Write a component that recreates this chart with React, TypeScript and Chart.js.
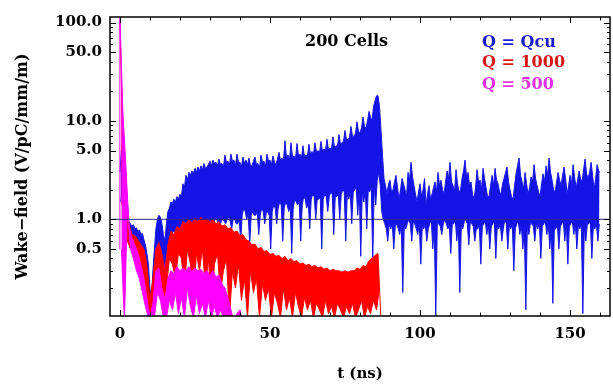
import React, { useEffect, useRef } from 'react';
import { Chart, registerables } from 'chart.js';
Chart.register(...registerables);

// ---- data (t in ns, wake-field in V/pC/mm/m) ----
// Q = Qcu: local maxima every 0.5 ns from t = 0, local minima every 0.5 ns from t = 0.25
const blueStep = 0.5;
const blueMaxStart = 0;
const blueMinStart = 0.25;
const blueMax = [
  3, 5, 5, 3, 2.5, 1.5, 0.95, 0.9, 0.85, 0.88, 0.8, 0.82, 0.75, 0.78, 0.7, 0.72, 0.62, 0.55, 0.45, 0.35,
  0.2, 0.15, 0.3, 0.5, 0.8, 1.0, 1.1, 1.05, 0.9, 0.7, 0.6, 0.9, 1.2, 1.3, 1.5, 1.45, 1.6, 1.5, 1.7, 1.6,
  1.8, 1.7, 2.3, 2.1, 2.8, 2.5, 3.0, 2.8, 3.1, 2.9, 3.3, 3.0, 3.4, 3.1, 3.5, 3.2, 3.7, 3.3, 3.4, 3.6,
  3.9, 3.5, 4.0, 3.7, 3.8, 3.5, 4.1, 3.6, 3.7, 3.4, 4.5, 3.8, 3.9, 3.6, 4.6, 3.9, 4.0, 3.5, 4.6, 3.8,
  3.8, 3.4, 4.3, 3.7, 4.0, 3.6, 4.2, 3.5, 3.5, 3.9, 4.3, 3.6, 3.7, 3.3, 4.5, 3.8, 3.9, 3.4, 4.6, 3.9,
  4.0, 3.6, 4.4, 3.8, 3.6, 4.1, 4.8, 4.0, 4.2, 3.9, 6.3, 4.2, 4.5, 4.0, 6.0, 4.3, 4.4, 4.1, 5.9, 4.4,
  4.6, 4.2, 5.6, 4.3, 4.5, 4.4, 5.8, 4.5, 4.9, 4.6, 6.0, 4.8, 5.0, 4.7, 6.2, 4.9, 5.2, 5.0, 6.5, 5.1,
  5.3, 5.2, 6.9, 5.4, 5.6, 5.5, 7.3, 5.8, 6.0, 6.2, 8.0, 6.4, 6.5, 6.8, 8.8, 7.0, 7.0, 7.5, 9.8, 7.8,
  7.6, 8.5, 11, 8.8, 8.5, 10, 12.5, 11, 10, 14, 16, 18, 18, 14, 8, 4.5, 2.6, 2.2, 1.8, 2.3,
  2.5, 1.9, 2.0, 2.4, 2.8, 2.1, 1.6, 2.0, 2.6, 2.3, 2.0, 1.7, 3.0, 2.5, 3.8, 2.7, 2.2, 1.8, 1.5, 1.9,
  2.3, 1.7, 2.0, 2.6, 1.4, 1.8, 2.2, 1.6, 1.8, 2.1, 2.4, 1.9, 3.0, 2.2, 2.5, 2.0, 1.8, 2.4, 3.1, 2.6,
  3.8, 2.4, 2.2, 1.9, 3.2, 2.3, 1.9, 2.0, 2.6, 3.1, 4.0, 2.7, 3.0, 2.2, 2.4, 1.8, 1.6, 2.1, 3.2, 2.4,
  2.5, 2.0, 3.3, 2.6, 2.1, 1.7, 1.7, 2.2, 2.8, 2.2, 3.3, 2.5, 2.3, 1.9, 1.8, 2.3, 2.6, 3.0, 3.4, 2.4,
  2.0, 1.7, 1.6, 2.2, 2.9, 3.5, 4.2, 2.8, 2.4, 2.0, 3.0, 2.3, 1.8, 2.1, 2.7, 2.4, 3.6, 2.6, 2.2, 1.9,
  1.7, 2.3, 2.9, 2.4, 3.5, 2.8, 4.2, 3.0, 2.5, 2.0, 1.9, 2.4, 3.0, 2.5, 2.2, 2.8, 3.4, 2.6, 1.8, 2.2,
  2.8, 2.3, 3.6, 2.7, 2.1, 2.5, 3.1, 2.6, 2.4, 3.2, 4.1, 2.9, 2.6, 3.0, 3.8, 2.8, 2.0, 2.6, 3.6, 3.1,
  3.0,
];
const blueMin = [
  1.5, 2, 1.8, 1.5, 1.2, 0.9, 0.7, 0.72, 0.62, 0.65, 0.58, 0.6, 0.52, 0.55, 0.47, 0.5, 0.38, 0.4, 0.25, 0.2,
  0.12, 0.09, 0.15, 0.3, 0.5, 0.6, 0.55, 0.5, 0.35, 0.3, 0.4, 0.5, 0.6, 0.7, 0.7, 0.75, 0.75, 0.8, 0.8, 0.78,
  0.8, 0.82, 0.85, 0.8, 0.9, 0.85, 0.85, 0.9, 0.9, 0.85, 0.9, 0.95, 0.95, 0.9, 0.9, 0.95, 0.9, 1.0, 1.0, 0.95,
  0.9, 0.95, 0.95, 1.0, 1.0, 0.9, 0.85, 0.95, 1.0, 0.95, 0.9, 1.0, 1.05, 0.95, 0.8, 1.0, 1.0, 0.9, 0.9, 1.0,
  0.6, 1.1, 1.3, 1.2, 1.0, 1.15, 0.55, 1.1, 1.2, 1.1, 1.1, 1.2, 0.7, 1.1, 1.3, 1.2, 0.9, 1.15, 1.2, 1.1,
  0.5, 1.2, 1.4, 1.3, 0.9, 1.3, 1.5, 1.4, 0.6, 1.3, 1.5, 1.4, 1.2, 1.4, 0.45, 1.3, 1.6, 1.5, 1.4, 1.5,
  0.6, 1.4, 1.7, 1.6, 1.3, 1.5, 0.8, 1.6, 1.8, 1.7, 1.0, 1.6, 1.6, 1.7, 0.5, 1.6, 1.8, 1.7, 1.2, 1.7,
  1.9, 1.8, 0.7, 1.7, 1.7, 1.8, 1.0, 1.8, 2.0, 1.9, 0.6, 1.8, 1.6, 1.9, 0.9, 1.9, 2.0, 2.1, 1.1, 2.0,
  0.42, 1.9, 1.5, 2.0, 0.8, 2.0, 1.9, 2.2, 0.38, 2.2, 1.4, 2.5, 3.0, 2.2, 1.2, 1.0, 0.9, 0.8, 0.6, 0.9,
  0.8, 0.9, 0.5, 0.85, 0.9, 0.8, 0.7, 0.9, 0.18, 0.85, 0.8, 0.9, 1.0, 0.9, 0.6, 0.95, 0.9, 0.8, 0.7, 0.9,
  0.35, 0.85, 0.8, 0.9, 0.6, 0.8, 0.9, 1.0, 0.5, 0.85, 0.1, 0.9, 0.9, 0.85, 0.7, 0.9, 1.0, 0.9, 0.8, 0.85,
  0.45, 0.9, 0.9, 1.0, 0.6, 0.9, 0.18, 0.85, 0.8, 0.95, 1.0, 0.9, 0.55, 0.95, 0.9, 0.85, 0.6, 0.8, 0.8, 0.9,
  0.35, 0.85, 0.9, 0.95, 0.7, 0.9, 0.5, 0.85, 0.9, 0.95, 0.4, 0.85, 0.8, 0.9, 0.6, 0.8, 1.0, 0.9, 0.5, 0.85,
  0.8, 0.9, 0.3, 0.8, 0.9, 0.95, 0.7, 0.9, 0.5, 0.8, 0.12, 0.85, 0.7, 0.9, 0.9, 0.85, 0.6, 0.9, 0.8, 0.95,
  0.4, 0.85, 0.9, 0.95, 0.7, 0.9, 0.5, 0.85, 0.14, 0.8, 0.8, 0.9, 0.5, 0.85, 0.9, 0.95, 0.6, 0.9, 0.35, 0.85,
  0.9, 0.95, 0.7, 0.9, 0.5, 0.85, 0.8, 0.9, 0.11, 0.85, 0.6, 0.9, 0.9, 0.95, 0.4, 0.85, 0.8, 0.9, 0.6, 0.9,
];

// Q = 1000: maxima every 1 ns from t = 0, minima every 1 ns from t = 0.5
const redStep = 1;
const redMaxStart = 0;
const redMinStart = 0.5;
const redMax = [
  100, 6, 2.0, 0.9, 0.7, 0.68, 0.62, 0.55, 0.5, 0.35,
  0.15, 0.25, 0.5, 0.58, 0.45, 0.3, 0.55, 0.75, 0.7, 0.85,
  0.8, 0.95, 0.9, 1.0, 0.92, 1.02, 0.95, 1.05, 0.97, 1.0,
  0.95, 1.0, 0.9, 0.95, 0.85, 0.88, 0.8, 0.82, 0.74, 0.76,
  0.68, 0.7, 0.62, 0.6, 0.55, 0.56, 0.5, 0.52, 0.47, 0.48,
  0.44, 0.45, 0.42, 0.43, 0.4, 0.42, 0.38, 0.4, 0.37, 0.38,
  0.35, 0.36, 0.34, 0.35, 0.33, 0.34, 0.32, 0.33, 0.31, 0.32,
  0.3, 0.31, 0.3, 0.3, 0.29, 0.3, 0.29, 0.3, 0.3, 0.32,
  0.31, 0.34, 0.33, 0.38, 0.4, 0.43, 0.45, 0.09,
];
const redMin = [
  1.5, 1.2, 0.6, 0.5, 0.45, 0.42, 0.38, 0.3, 0.22, 0.12,
  0.09, 0.12, 0.3, 0.25, 0.15, 0.2, 0.4, 0.35, 0.25, 0.45,
  0.4, 0.2, 0.5, 0.35, 0.15, 0.45, 0.3, 0.5, 0.2, 0.4,
  0.12, 0.35, 0.45, 0.18, 0.3, 0.4, 0.1, 0.3, 0.2, 0.35,
  0.15, 0.25, 0.1, 0.3, 0.18, 0.25, 0.1, 0.22, 0.15, 0.2,
  0.1, 0.18, 0.14, 0.1, 0.2, 0.12, 0.16, 0.1, 0.18, 0.13,
  0.1, 0.16, 0.12, 0.15, 0.1, 0.14, 0.12, 0.1, 0.15, 0.11,
  0.13, 0.1, 0.14, 0.12, 0.1, 0.13, 0.11, 0.14, 0.1, 0.12,
  0.15, 0.1, 0.13, 0.11, 0.15, 0.12, 0.2,
];

// Q = 500: onset point, then maxima every 1 ns from t = 0, minima from t = 0.5
const magentaOnsetT = -0.1;
const magentaOnsetValue = 0.5;
const magentaStep = 1;
const magentaMaxStart = 0;
const magentaMinStart = 0.5;
const magentaMax = [
  120, 12, 3.5, 0.85, 0.65, 0.55, 0.45, 0.35, 0.25, 0.16,
  0.1, 0.14, 0.3, 0.32, 0.2, 0.15, 0.25, 0.3, 0.28, 0.33,
  0.3, 0.32, 0.3, 0.33, 0.29, 0.32, 0.3, 0.31, 0.28, 0.3,
  0.27, 0.3, 0.26, 0.27, 0.22, 0.2, 0.16, 0.12, 0.09, 0.11,
  0.12, 0.09,
];
const magentaMin = [
  0.5, 0.09, 1.3, 0.5, 0.4, 0.3, 0.25, 0.18, 0.13, 0.1,
  0.09, 0.1, 0.18, 0.15, 0.1, 0.1, 0.15, 0.12, 0.18, 0.11,
  0.16, 0.1, 0.2, 0.13, 0.1, 0.17, 0.11, 0.14, 0.1, 0.15,
  0.1, 0.13, 0.1, 0.12, 0.1, 0.1, 0.09, 0.09, 0.09, 0.09,
  0.09,
];

const referenceLevel = 1;
const xTickValues = [0, 50, 100, 150];
const xMinorTickValues = [10, 20, 30, 40, 60, 70, 80, 90, 110, 120, 130, 140, 160];
const yTickValues = [0.5, 1, 5, 10, 50, 100];
const yMinorTickValues = [0.2, 0.3, 0.4, 0.6, 0.7, 0.8, 0.9, 2, 3, 4, 6, 7, 8, 9, 20, 30, 40, 60, 70, 80, 90];

const xMin = -3.3;
const xMax = 163.3;
const yMin = 0.104;
const yMax = 114;

function pointsAt(start: number, step: number, values: number[]) {
  return values.map((v, i) => ({ x: start + i * step, y: v }));
}

const FONT = 'DejaVu Serif';

const framePlugin = {
  id: 'frameTicks',
  afterDatasetsDraw(chart: any) {
    const { ctx, chartArea, scales } = chart;
    const yRef = scales.y.getPixelForValue(referenceLevel);
    ctx.save();
    ctx.strokeStyle = '#2c2c7a';
    ctx.lineWidth = 1;
    ctx.beginPath();
    ctx.moveTo(chartArea.left, yRef);
    ctx.lineTo(chartArea.right, yRef);
    ctx.stroke();
    ctx.restore();
  },
  afterDraw(chart: any) {
    const { ctx, chartArea, scales } = chart;
    const { left, right, top, bottom } = chartArea;
    ctx.save();
    ctx.strokeStyle = '#000';
    ctx.lineWidth = 1.5;
    ctx.strokeRect(left, top, right - left, bottom - top);
    ctx.lineWidth = 1;
    ctx.beginPath();
    const xt = (v: number, len: number) => {
      const px = Math.round(scales.x.getPixelForValue(v)) + 0.5;
      ctx.moveTo(px, bottom);
      ctx.lineTo(px, bottom - len);
      ctx.moveTo(px, top);
      ctx.lineTo(px, top + len);
    };
    const yt = (v: number, len: number) => {
      const py = Math.round(scales.y.getPixelForValue(v)) + 0.5;
      ctx.moveTo(left, py);
      ctx.lineTo(left + len, py);
      ctx.moveTo(right, py);
      ctx.lineTo(right - len, py);
    };
    xTickValues.forEach((v) => xt(v, 6));
    xMinorTickValues.forEach((v) => xt(v, 3.5));
    yTickValues.forEach((v) => yt(v, 6));
    yMinorTickValues.forEach((v) => yt(v, 3));
    ctx.stroke();

    // annotation texts
    ctx.font = `bold 16px "${FONT}"`;
    ctx.textBaseline = 'middle';
    ctx.textAlign = 'left';
    ctx.fillStyle = '#000';
    ctx.fillText('200 Cells', 305, 42);
    ctx.fillStyle = '#1a1ad0';
    ctx.fillText('Q = Qcu', 482, 43);
    ctx.fillStyle = '#d81818';
    ctx.fillText('Q = 1000', 482, 63);
    ctx.fillStyle = '#e030e0';
    ctx.fillText('Q = 500', 482, 85);
    ctx.restore();
  },
};

export default function App() {
  const ref = useRef<HTMLCanvasElement>(null);
  useEffect(() => {
    if (!ref.current) return;
    const blueHi = pointsAt(blueMaxStart, blueStep, blueMax);
    const blueLo = pointsAt(blueMinStart, blueStep, blueMin);
    const redHi = pointsAt(redMaxStart, redStep, redMax);
    const redLo = pointsAt(redMinStart, redStep, redMin);
    const magHi = [{ x: magentaOnsetT, y: magentaOnsetValue }, ...pointsAt(magentaMaxStart, magentaStep, magentaMax)];
    const magLo = pointsAt(magentaMinStart, magentaStep, magentaMin);
    const tickFont = { family: FONT, size: 15, weight: 'bold' as const };
    const common = { borderWidth: 1, pointRadius: 0, borderJoinStyle: 'bevel' as const, tension: 0 };
    const band = (label: string, hi: any[], lo: any[], color: string, order: number) => [
      { label, data: hi, borderColor: color, backgroundColor: color, fill: '+1', order, ...common },
      { label: label + ' (min)', data: lo, borderColor: color, backgroundColor: color, fill: false, order, ...common },
    ];
    const chart = new Chart(ref.current, {
      type: 'line',
      data: {
        datasets: [
          ...band('Q = 500', magHi, magLo, '#ff00ff', 1),
          ...band('Q = 1000', redHi, redLo, '#ff0000', 2),
          ...band('Q = Qcu', blueHi, blueLo, '#1414e6', 3),
        ] as any,
      },
      options: {
        animation: false,
        responsive: false,
        layout: { padding: { top: 8, right: 3, left: 0, bottom: 0 } },
        plugins: { legend: { display: false }, tooltip: { enabled: false } },
        scales: {
          x: {
            type: 'linear',
            min: xMin,
            max: xMax,
            afterBuildTicks: (s: any) => {
              s.ticks = xTickValues.map((v) => ({ value: v }));
            },
            afterFit: (s: any) => {
              s.height = 68;
            },
            grid: { display: false, drawTicks: false },
            border: { display: false },
            ticks: { font: tickFont, color: '#000', padding: 9, maxRotation: 0, autoSkip: false },
            title: { display: true, text: 't (ns)', color: '#000', font: { family: FONT, size: 15, weight: 'bold' }, padding: { top: 0, bottom: 1 } },
          },
          y: {
            type: 'logarithmic',
            min: yMin,
            max: yMax,
            afterBuildTicks: (s: any) => {
              s.ticks = yTickValues.map((v) => ({ value: v }));
            },
            afterFit: (s: any) => {
              s.width = 110;
            },
            grid: { display: false, drawTicks: false },
            border: { display: false },
            ticks: { font: tickFont, color: '#000', padding: 8, autoSkip: false, callback: (v: any) => Number(v).toFixed(1) },
            title: { display: true, text: 'Wake−field (V/pC/mm/m)', color: '#000', font: { family: FONT, size: 16, weight: 'bold' }, padding: { top: 13, bottom: 0 } },
          },
        },
      },
      plugins: [framePlugin],
    });
    return () => chart.destroy();
  }, []);
  return (
    <div style={{ position: 'absolute', left: 0, top: 0, width: 613, height: 384, background: '#fff' }}>
      <canvas ref={ref} width={613} height={384} style={{ display: 'block' }} />
    </div>
  );
}
